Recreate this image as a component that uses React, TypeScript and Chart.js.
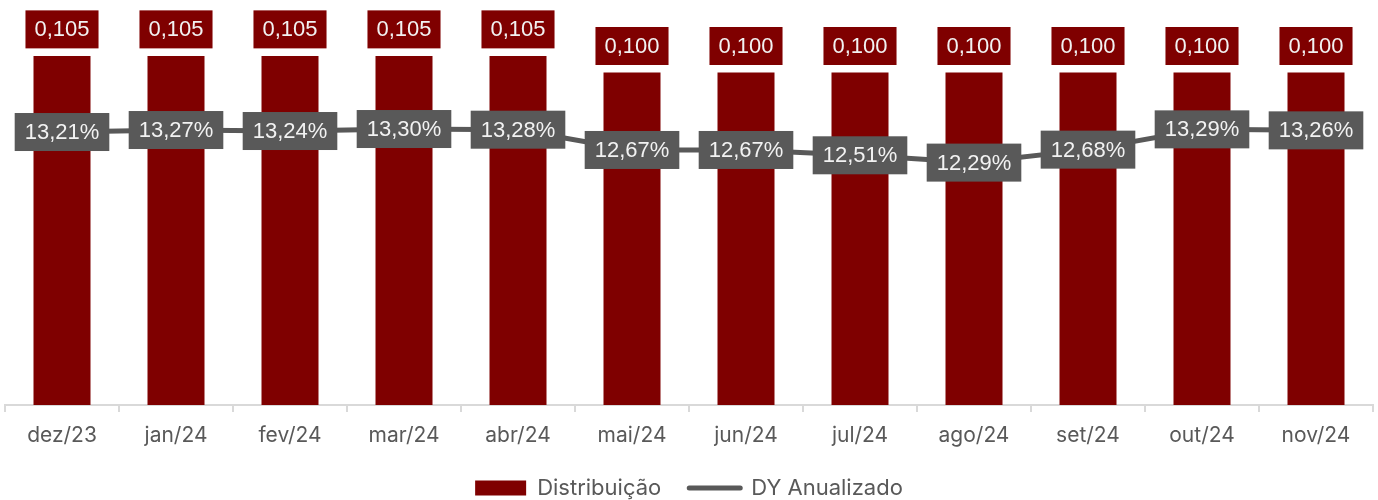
import React, { useEffect, useRef } from "react";
import { Chart, registerables } from "chart.js";

Chart.register(...registerables);

const categories = ["dez/23", "jan/24", "fev/24", "mar/24", "abr/24", "mai/24", "jun/24", "jul/24", "ago/24", "set/24", "out/24", "nov/24"];
const distribuicao = [0.105, 0.105, 0.105, 0.105, 0.105, 0.1, 0.1, 0.1, 0.1, 0.1, 0.1, 0.1];
const dyAnualizado = [13.21, 13.27, 13.24, 13.3, 13.28, 12.67, 12.67, 12.51, 12.29, 12.68, 13.29, 13.26];
const legendLabels = ["Distribuição", "DY Anualizado"];

const BAR_COLOR = "#7F0000";
const LINE_COLOR = "#595959";
const AXIS_TEXT = "#595959";
const AXIS_LINE = "#D9D9D9";
const LABEL_FONT = '22px "Liberation Sans", Arial, sans-serif';

const labelPlugin = {
  id: "boxLabels",
  afterDatasetsDraw(chart: any) {
    const ctx = chart.ctx;
    ctx.save();
    ctx.font = LABEL_FONT;
    ctx.textAlign = "center";
    ctx.textBaseline = "middle";
    const barMeta = chart.getDatasetMeta(0);
    barMeta.data.forEach((el: any, i: number) => {
      const txt = distribuicao[i].toFixed(3).replace(".", ",");
      const w = ctx.measureText(txt).width + 18;
      const h = 38;
      const cx = el.x;
      const cy = el.y - 26.5;
      ctx.fillStyle = BAR_COLOR;
      ctx.fillRect(cx - w / 2, cy - h / 2, w, h);
      ctx.fillStyle = "#F2F2F2";
      ctx.fillText(txt, cx, cy + 1);
    });
    const lineMeta = chart.getDatasetMeta(1);
    lineMeta.data.forEach((el: any, i: number) => {
      const txt = dyAnualizado[i].toFixed(2).replace(".", ",") + "%";
      const w = ctx.measureText(txt).width + 20;
      const h = 38;
      const cx = el.x;
      const cy = el.y;
      ctx.fillStyle = LINE_COLOR;
      ctx.fillRect(cx - w / 2, cy - h / 2, w, h);
      ctx.fillStyle = "#F2F2F2";
      ctx.fillText(txt, cx, cy + 1);
    });
    ctx.restore();
  },
};

export default function App() {
  const canvasRef = useRef<HTMLCanvasElement | null>(null);

  useEffect(() => {
    if (!canvasRef.current) return;
    const chart = new Chart(canvasRef.current, {
      type: "bar",
      data: {
        labels: categories,
        datasets: [
          {
            type: "bar",
            label: legendLabels[0],
            data: distribuicao,
            backgroundColor: BAR_COLOR,
            borderWidth: 0,
            yAxisID: "y",
            categoryPercentage: 1,
            barPercentage: 0.5,
            order: 2,
          },
          {
            type: "line",
            label: legendLabels[1],
            data: dyAnualizado,
            borderColor: LINE_COLOR,
            backgroundColor: LINE_COLOR,
            borderWidth: 5,
            pointRadius: 0,
            tension: 0,
            yAxisID: "y1",
            order: 1,
          } as any,
        ],
      },
      options: {
        animation: false,
        responsive: false,
        events: [],
        layout: { padding: { left: 5, right: 5, top: 6, bottom: -9 } },
        scales: {
          x: {
            offset: true,
            grid: {
              display: true,
              drawOnChartArea: false,
              drawTicks: true,
              tickLength: 7,
              color: AXIS_LINE,
              lineWidth: 2,
              offset: true,
            },
            border: { display: true, color: AXIS_LINE, width: 2 },
            ticks: {
              color: AXIS_TEXT,
              padding: 11,
              font: { family: "Inter", size: 21 },
            },
            afterFit: (scale: any) => {
              scale.height = 44;
            },
          },
          y: { display: false, min: 0, max: 0.12 },
          y1: { display: false, min: 5, max: 17, position: "right" },
        },
        plugins: {
          tooltip: { enabled: false },
          legend: {
            display: true,
            position: "bottom",
            labels: {
              usePointStyle: true,
              pointStyleWidth: 51,
              boxHeight: 15,
              padding: 28,
              color: AXIS_TEXT,
              font: { family: "Inter", size: 22 },
              generateLabels: () => [
                {
                  text: legendLabels[0],
                  fillStyle: BAR_COLOR,
                  strokeStyle: BAR_COLOR,
                  lineWidth: 0,
                  pointStyle: "rect",
                  datasetIndex: 0,
                  fontColor: AXIS_TEXT,
                  hidden: false,
                },
                {
                  text: legendLabels[1],
                  fillStyle: LINE_COLOR,
                  strokeStyle: LINE_COLOR,
                  lineWidth: 5,
                  lineCap: "round",
                  pointStyle: "line",
                  datasetIndex: 1,
                  fontColor: AXIS_TEXT,
                  hidden: false,
                },
              ],
            },
          },
        },
      },
      plugins: [labelPlugin],
    } as any);
    return () => chart.destroy();
  }, []);

  return (
    <div style={{ position: "absolute", left: 0, top: 0, width: 1378, height: 500, background: "#fff" }}>
      <canvas ref={canvasRef} width={1378} height={500} style={{ display: "block" }} />
    </div>
  );
}
